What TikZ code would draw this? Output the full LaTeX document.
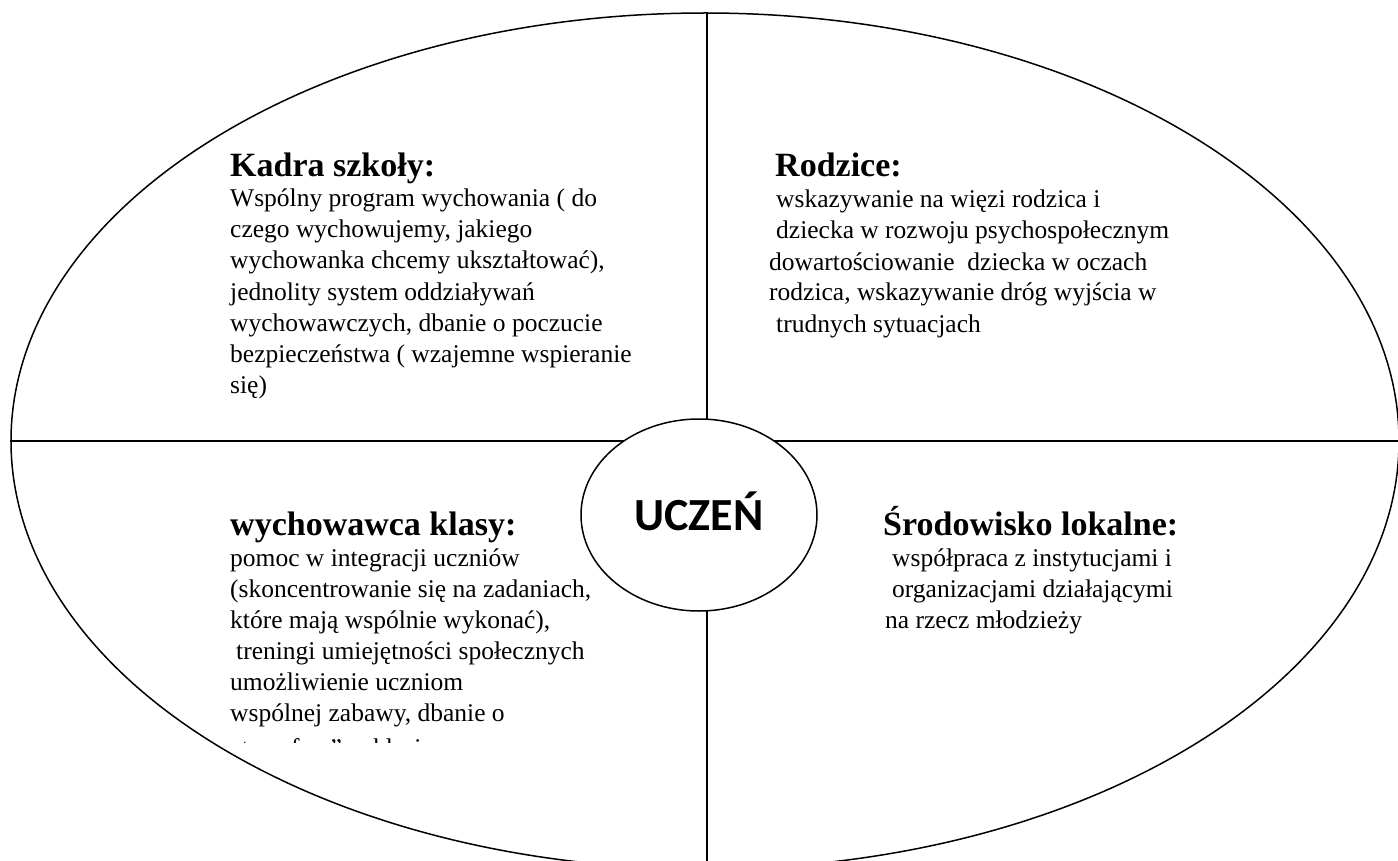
\documentclass[tikz,border=0pt]{standalone}
\usepackage{fontspec}
\setmainfont{Liberation Serif}
\newfontfamily\calibri{Carlito}
\usetikzlibrary{shapes.geometric}

\tikzset{
  head/.style={anchor=base west, inner sep=0pt, font=\fontsize{34}{40}\selectfont\bfseries},
  body/.style={anchor=base west, inner sep=0pt, font=\fontsize{25.5}{31}\selectfont},
}

\begin{document}
\begin{tikzpicture}[x=1pt,y=-1pt]
  \newcommand\rowGap{31}
  \useasboundingbox (0,0) rectangle (1398,861);

  % big ellipse, cut at the page edge
  \begin{scope}
    \clip (0,0) rectangle (1398,861);
    \node[draw, ellipse, line width=1.5pt, inner sep=0pt,
          minimum width=1388pt, minimum height=856pt] (outer) at (705,441) {};
  \end{scope}

  \coordinate (rightend) at (1398,441);
  \coordinate (bottomend) at (707,861);
  \draw[line width=2pt] (outer.west) -- (rightend);
  \draw[line width=1.2pt] (outer.north -| bottomend) -- (bottomend);

  \node[draw, ellipse, fill=white, line width=1.5pt, inner sep=0pt,
        minimum width=236pt, minimum height=192pt,
        text height=30pt, text depth=0pt,
        font=\calibri\bfseries\fontsize{46}{50}\selectfont] (uczen) at (699,515) {UCZEŃ};

  % top left
  \node[head] (kadra) at (230,177) {Kadra szkoły:};
  \foreach \txt [count=\i] in {Wspólny program wychowania ( do,
      {czego wychowujemy, jakiego},
      {wychowanka chcemy ukształtować),},
      jednolity system oddziaływań,
      {wychowawczych, dbanie o poczucie},
      bezpieczeństwa ( wzajemne wspieranie,
      się)}
    \node[body] (kadra-\i) at (230,{176+\i*\rowGap}) {\txt};

  % top right
  \node[head] (rodzice) at (775,177) {Rodzice:};
  \foreach \dx/\txt [count=\i] in {7/wskazywanie na więzi rodzica i,
      7/dziecka w rozwoju psychospołecznym,
      0/dowartościowanie \ dziecka w oczach,
      {0/rodzica, wskazywanie dróg wyjścia w},
      7/trudnych sytuacjach}
    \node[body] (rodzice-\i) at ({769+\dx},{177+\i*\rowGap}) {\txt};

  % bottom left
  \node[head] (wychowawca) at (230,535) {wychowawca klasy:};
  \foreach \dx/\txt [count=\i] in {0/pomoc w integracji uczniów,
      {0/(skoncentrowanie się na zadaniach,},
      {0/które mają wspólnie wykonać),},
      6/treningi umiejętności społecznych,
      0/umożliwienie uczniom,
      {0/wspólnej zabawy, dbanie o}}
    \node[body] (wychowawca-\i) at ({230+\dx},{535+\i*\rowGap}) {\txt};
  \begin{scope}
    \clip (200,700) rectangle (700,742);
    \node[body] (wychowawca-7) at (230,756) {atmosferę” w klasie};
  \end{scope}

  % bottom right
  \node[head] (srodowisko) at (883,535) {Środowisko lokalne:};
  \foreach \dx/\txt [count=\i] in {7/współpraca z instytucjami i,
      7/organizacjami działającymi,
      0/na rzecz młodzieży}
    \node[body] (srodowisko-\i) at ({885+\dx},{535+\i*\rowGap}) {\txt};
\end{tikzpicture}
\end{document}
